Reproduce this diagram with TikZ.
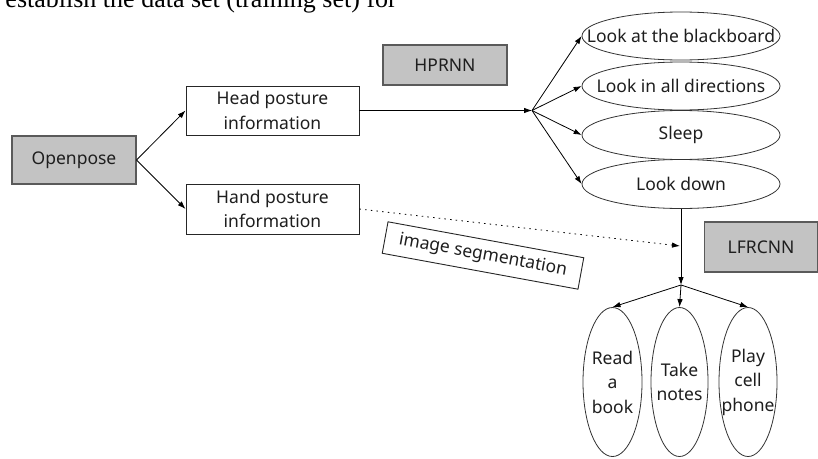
\documentclass[tikz,border=0pt]{standalone}
\usepackage{fontspec}
\setmainfont{Noto Sans}
\newfontfamily\serifbody{Liberation Serif}
\usetikzlibrary{arrows.meta,shapes.geometric}

\definecolor{boxgray}{HTML}{C3C3C3}
\definecolor{boxedge}{HTML}{5A5A5A}
\definecolor{inkcol}{HTML}{1E1E1E}

\tikzset{
  lbl/.style={font=\fontsize{17.5}{24.5}\selectfont, text=inkcol, align=center, inner sep=0pt},
  graybox/.style={lbl, draw=boxedge, line width=1.1pt, fill=boxgray},
  infobox/.style={lbl, draw=black!85, line width=0.9pt, fill=white, minimum width=173pt},
  % the ellipse is sized by its min width/height only; its text is a centred label
  oval/.style={ellipse, draw=black!80, line width=0.8pt, fill=white, inner sep=0pt,
               label={[lbl]center:#1}},
  conn/.style={black, line width=0.8pt, -{Latex[length=8pt,width=5.5pt]}},
  dotconn/.style={conn, dash pattern=on 1.5pt off 4.2pt}
}

\begin{document}
\begin{tikzpicture}[x=1pt, y=-1pt]
  \useasboundingbox (0,0) rectangle (818,458);
  \fill[white] (0,0) rectangle (818,458);

  % tail of the body text line above the figure
  \begin{scope}
    \clip (0,0) rectangle (818,458);
    \node[anchor=base east, inner sep=0pt, font=\serifbody\fontsize{26}{30}\selectfont]
      (bodyline) at (397,7) {establish the data set (training set) for};
  \end{scope}

  % left column
  \node[graybox, minimum width=124pt, minimum height=48pt] (openpose) at (74,160) {Openpose};
  \node[infobox, minimum height=49pt] (head) at (272.5,110.5) {Head posture\\information};
  \node[infobox, minimum height=50pt] (hand) at (272.5,209) {Hand posture\\information};

  % network labels
  \node[graybox, minimum width=124pt, minimum height=40pt] (hprnn) at (445,65) {HPRNN};
  \node[graybox, minimum width=113pt, minimum height=50pt] (lfrcnn) at (761,247) {LFRCNN};

  % head posture classes
  \node[oval={Look at the blackboard}, minimum width=198pt, minimum height=48pt] (e1) at (681,36) {};
  \node[oval={Look in all directions}, minimum width=198pt, minimum height=48pt] (e2) at (681,86) {};
  \node[oval={Sleep}, minimum width=198pt, minimum height=49pt] (e3) at (681,135) {};
  \node[oval={Look down}, minimum width=198pt, minimum height=49pt] (e4) at (681,184) {};

  % hand posture classes
  \node[oval={Read\\a\\book}, minimum width=59pt, minimum height=149pt] (b1) at (612.5,382) {};
  \node[oval={Take\\notes}, minimum width=57pt, minimum height=149pt] (b2) at (679.5,382) {};
  \node[oval={Play\\cell\\phone}, minimum width=58pt, minimum height=149pt] (b3) at (748,382) {};

  % segmentation tag
  \node[lbl, draw=black!85, line width=0.9pt, fill=white, rotate=-10.4,
        minimum width=199pt, minimum height=32pt] (seg) at (483,255.5) {image segmentation};

  % branch points
  \coordinate (hfan) at (532,110.5);
  \coordinate (lfan) at (681,285);
  \coordinate (dotend) at (680,246);

  % connectors
  \draw[conn] (openpose.east) -- (head.west);
  \draw[conn] (openpose.east) -- (hand.west);
  \draw[conn] (head.east) -- (hfan);
  \draw[conn] (hfan) -- (e1.west);
  \draw[conn] (hfan) -- (e2.west);
  \draw[conn] (hfan) -- (e3.west);
  \draw[conn] (hfan) -- (e4.west);
  \draw[conn] (e4.south) -- (lfan);
  \draw[conn] (lfan) -- (b1.north);
  \draw[conn] (lfan) -- (b2.north);
  \draw[conn] (lfan) -- (b3.north);
  \draw[dotconn] (hand.east) -- (dotend);
\end{tikzpicture}
\end{document}
